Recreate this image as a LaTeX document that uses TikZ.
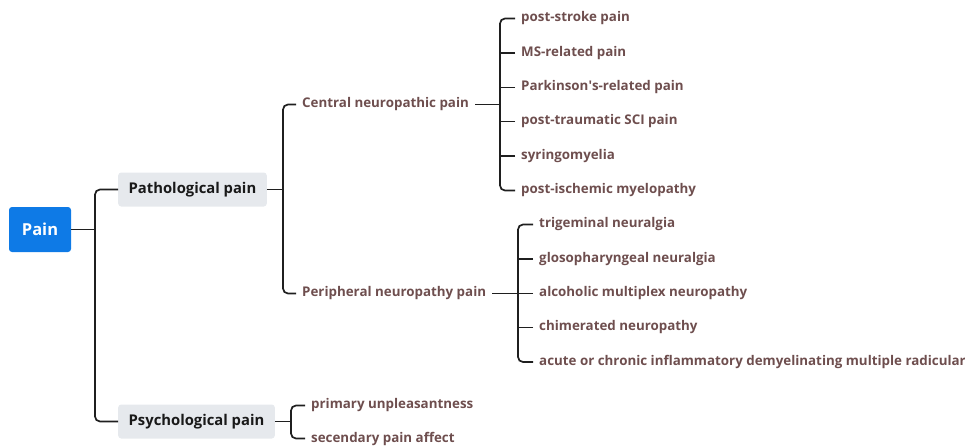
\documentclass[tikz,border=0pt]{standalone}
\usepackage{fontspec}
\setmainfont{Open Sans}
\begin{document}
\begin{tikzpicture}[x=1pt,y=-1pt,
  conn/.style={draw=black!88,line width=1.7pt,rounded corners=5pt},
  rootbox/.style={fill=rootblue,rounded corners=3pt,text=white,font=\fontsize{16.5}{18}\selectfont\bfseries,minimum width=62pt,minimum height=45pt,inner sep=0pt},
  mainbox/.style={fill=boxgray,rounded corners=3pt,text=black!90,font=\fontsize{14.8}{17}\selectfont\bfseries,minimum height=34pt,inner xsep=10.5pt},
  leaf/.style={text=leafbrown,font=\fontsize{13.35}{16}\selectfont\bfseries,anchor=west,inner xsep=0pt,inner ysep=2pt}
]
\definecolor{rootblue}{HTML}{0E7AE6}
\definecolor{boxgray}{HTML}{E6E9ED}
\definecolor{leafbrown}{HTML}{6E4E4E}
\useasboundingbox (0,0) rectangle (965,447);

\node[rootbox] (pain) at (40,229.5) {Pain};
\node[mainbox,anchor=west] (path) at (118,189.5) {Pathological pain};
\node[mainbox,anchor=west] (psy) at (118,421.5) {Psychological pain};

\node[leaf] (cnp) at (302,104.5) {Central neuropathic pain};
\node[leaf] (pnp) at (302,293.5) {Peripheral neuropathy pain};

\node[leaf] (c1) at (521,18.5) {post-stroke pain};
\node[leaf] (c2) at (521,53) {MS-related pain};
\node[leaf] (c3) at (521,87.5) {Parkinson\textquotesingle s-related pain};
\node[leaf] (c4) at (521,121.5) {post-traumatic SCI pain};
\node[leaf] (c5) at (521,156) {syringomyelia};
\node[leaf] (c6) at (521,190.5) {post-ischemic myelopathy};

\node[leaf] (p1) at (539,224.5) {trigeminal neuralgia};
\node[leaf] (p2) at (539,259) {glosopharyngeal neuralgia};
\node[leaf] (p3) at (539,293.5) {alcoholic multiplex neuropathy};
\node[leaf] (p4) at (539,327.5) {chimerated neuropathy};
\node[leaf] (p5) at (539,362) {acute or chronic inflammatory demyelinating multiple radicular};

\node[leaf] (s1) at (311,405.5) {primary unpleasantness};
\node[leaf] (s2) at (311,438.5) {secendary pain affect};

% spine coordinates
\coordinate (sp0) at (95,0);
\coordinate (sp1) at (283,0);
\coordinate (sp2) at (500,0);
\coordinate (sp3) at (518,0);
\coordinate (sp4) at (291,0);

% root
\draw[conn] (pain.east) -- (pain.east -| sp0);
\draw[conn] (path.west) -- (path.west -| sp0) -- (psy.west -| sp0) -- (psy.west);

% pathological
\draw[conn] (path.east) -- (path.east -| sp1);
\draw[conn] ([xshift=-6pt]cnp.west) -- (cnp.west -| sp1) -- (pnp.west -| sp1) -- ([xshift=-6pt]pnp.west);

% central
\draw[conn] ([xshift=6pt]cnp.east) -- (cnp.east -| sp2);
\draw[conn] ([xshift=-6pt]c1.west) -- (c1.west -| sp2) -- (c6.west -| sp2) -- ([xshift=-6pt]c6.west);
\foreach \n in {c2,c3,c4,c5}
  \draw[conn] ([xshift=-6pt]\n.west) -- (\n.west -| sp2);

% peripheral
\draw[conn] ([xshift=6pt]pnp.east) -- (pnp.east -| sp3);
\draw[conn] ([xshift=-6pt]p1.west) -- (p1.west -| sp3) -- (p5.west -| sp3) -- ([xshift=-6pt]p5.west);
\foreach \n in {p2,p3,p4}
  \draw[conn] ([xshift=-6pt]\n.west) -- (\n.west -| sp3);

% psychological
\draw[conn] (psy.east) -- (psy.east -| sp4);
\draw[conn] ([xshift=-6pt]s1.west) -- (s1.west -| sp4) -- (s2.west -| sp4) -- ([xshift=-6pt]s2.west);
\end{tikzpicture}
\end{document}
